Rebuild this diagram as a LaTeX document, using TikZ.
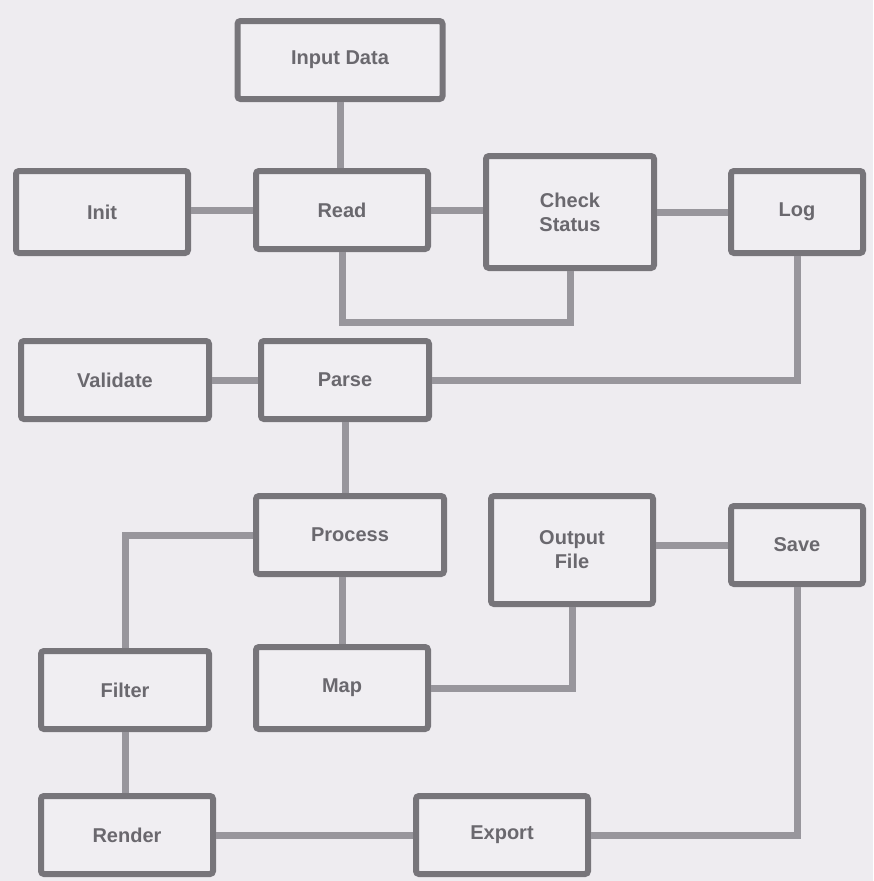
\documentclass[tikz,border=0pt]{standalone}
\usepackage{fontspec}
\setmainfont{Liberation Sans}
\definecolor{bg}{HTML}{EEECF0}
\definecolor{boxfill}{HTML}{F0EEF2}
\definecolor{boxline}{HTML}{77757A}
\definecolor{wire}{HTML}{98969C}
\definecolor{ink}{HTML}{6A686E}
\begin{document}
\begin{tikzpicture}[x=1pt,y=-1pt,
  blk/.style={draw=boxline, fill=boxfill, line width=6pt, rounded corners=3pt,
    text=ink, font=\fontsize{20}{24}\selectfont\bfseries, align=center, inner sep=0pt},
  wire/.style={draw=wire, line width=7pt}]
\fill[bg] (0,0) rectangle (873,881);
\useasboundingbox (0,0) rectangle (873,881);
% nodes
\node[blk, minimum width=205pt, minimum height=78pt] (A) at (340,60) {Input Data};
\node[blk, minimum width=172pt, minimum height=82pt] (B1) at (102,212) {Init};
\node[blk, minimum width=172pt, minimum height=78pt] (B2) at (342,210) {Read};
\node[blk, minimum width=168pt, minimum height=112pt] (B3) at (570,212) {Check\\Status};
\node[blk, minimum width=132pt, minimum height=82pt] (B4) at (797,212) {Log};
\node[blk, minimum width=188pt, minimum height=78pt] (C1) at (115,380) {Validate};
\node[blk, minimum width=168pt, minimum height=78pt] (C2) at (345,380) {Parse};
\node[blk, minimum width=188pt, minimum height=78pt] (D1) at (350,535) {Process};
\node[blk, minimum width=162pt, minimum height=108pt] (D2) at (572,550) {Output\\File};
\node[blk, minimum width=132pt, minimum height=78pt] (D3) at (797,545) {Save};
\node[blk, minimum width=168pt, minimum height=78pt] (E1) at (125,690) {Filter};
\node[blk, minimum width=172pt, minimum height=82pt] (E2) at (342,688) {Map};
\node[blk, minimum width=172pt, minimum height=78pt] (F1) at (127,835) {Render};
\node[blk, minimum width=172pt, minimum height=78pt] (F2) at (502,835) {Export};
% connectors
\draw[wire] (A.south) -- (A.south |- B2.north);
\draw[wire] (B1.east |- B2.west) -- (B2.west);
\draw[wire] (B2.east) -- (B3.west |- B2.east);
\draw[wire] (B3.east |- B4.west) -- (B4.west);
\draw[wire] (B2.south) -- ++(0,70) -| (B3.south);
\draw[wire] (C1.east) -- (C2.west);
\draw[wire] (C2.east) -| (B4.south);
\draw[wire] (C2.south) -- (C2.south |- D1.north);
\draw[wire] (D1.west) -| (E1.north);
\draw[wire] (D1.south -| E2.north) -- (E2.north);
\draw[wire] (D2.east |- D3.west) -- (D3.west);
\draw[wire] (D2.south) |- (E2.east);
\draw[wire] (E1.south) -- (E1.south |- F1.north);
\draw[wire] (F1.east) -- (F2.west);
\draw[wire] (F2.east) -| (D3.south);
\end{tikzpicture}
\end{document}
